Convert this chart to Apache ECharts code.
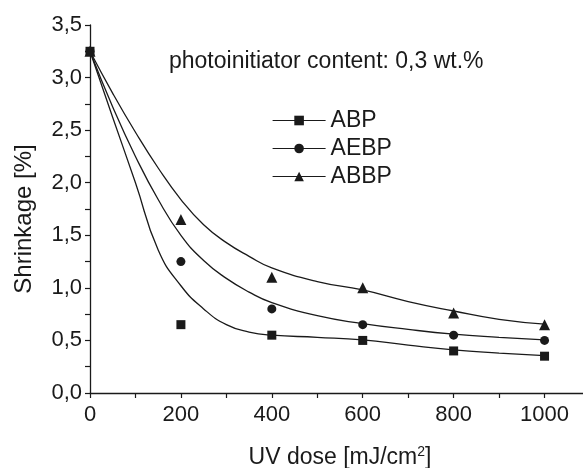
<!DOCTYPE html>
<html>
<head>
<meta charset="utf-8">
<script src="https://cdn.jsdelivr.net/npm/echarts@6/dist/echarts.min.js"></script>
<style>
  html, body { margin: 0; padding: 0; background: #fff; }
  #chart { width: 583px; height: 468px; }
</style>
</head>
<body>
<div id="chart"></div>
<script>
// ---- data ----
const doses = [0, 200, 400, 600, 800, 1000];
const abpPoints  = [3.25, 0.65, 0.55, 0.50, 0.40, 0.35];
const aebpPoints = [3.25, 1.25, 0.80, 0.65, 0.55, 0.50];
const abbpPoints = [3.25, 1.65, 1.10, 1.00, 0.76, 0.65];

// fitted curves at these doses
const fitDoses = [0, 50, 100, 150, 200, 250, 300, 350, 400, 500, 600, 700, 800, 900, 1000];
const abpFit  = [3.25, 2.62, 2.00, 1.36, 1.02, 0.80, 0.65, 0.58, 0.55, 0.53, 0.505, 0.455, 0.41, 0.38, 0.355];
const aebpFit = [3.25, 2.72, 2.25, 1.84, 1.50, 1.26, 1.09, 0.96, 0.86, 0.735, 0.66, 0.605, 0.56, 0.53, 0.505];
const abbpFit = [3.25, 2.85, 2.48, 2.14, 1.84, 1.60, 1.43, 1.30, 1.19, 1.06, 0.98, 0.87, 0.78, 0.70, 0.655];

const seriesNames = ['ABP', 'AEBP', 'ABBP'];
const annotation = 'photoinitiator content: 0,3 wt.%';
const xTitle = 'UV dose [mJ/cm{sup|2}]';
const yTitle = 'Shrinkage [%]';

const ink = '#1a1a1a';
const font = 'Liberation Sans, Arial, sans-serif';

function pairs(xs, ys) { return xs.map((x, i) => [x, ys[i]]); }

const chart = echarts.init(document.getElementById('chart'), null, { renderer: 'canvas' });

const fitSeries = (name, data, symbol) => ({
  name, type: 'line', data, smooth: 0.5, showSymbol: false, symbol,
  lineStyle: { color: ink, width: 1.3 }, itemStyle: { color: ink },
  silent: true, animation: false, z: 2
});
const pointSeries = (name, data, symbol, size) => ({
  name, type: 'scatter', data, symbol, symbolSize: size,
  itemStyle: { color: ink, opacity: 1 }, silent: true, animation: false, z: 3
});

chart.setOption({
  animation: false,
  backgroundColor: '#fff',
  grid: { left: 90, right: -7, top: 25, bottom: 75, containLabel: false, outerBoundsMode: 'none' },
  xAxis: {
    type: 'value', min: 0, max: 1100, interval: 200,
    axisLine: { show: true, lineStyle: { color: ink, width: 1.3 } },
    axisTick: { show: true, length: 5, lineStyle: { color: ink, width: 1.2 } },
    minorTick: { show: true, splitNumber: 2, length: 5, lineStyle: { color: ink, width: 1.2 } },
    splitLine: { show: false },
    axisLabel: { color: ink, fontSize: 22, fontFamily: font, margin: 11,
      formatter: v => (v % 200 === 0 && v <= 1000) ? String(v) : '' },
    name: xTitle, nameLocation: 'middle', nameGap: 52,
    nameTextStyle: { color: ink, fontSize: 23, fontFamily: font,
      rich: { sup: { fontSize: 14, fontFamily: font, color: ink, padding: [0, 0, 12, 0] } } }
  },
  yAxis: {
    type: 'value', min: 0, max: 3.5, interval: 0.5,
    axisLine: { show: true, lineStyle: { color: ink, width: 1.3 } },
    axisTick: { show: true, length: 5, lineStyle: { color: ink, width: 1.2 } },
    minorTick: { show: true, splitNumber: 2, length: 5, lineStyle: { color: ink, width: 1.2 } },
    splitLine: { show: false },
    axisLabel: { color: ink, fontSize: 22, fontFamily: font, margin: 8,
      formatter: v => v.toFixed(1).replace('.', ',') },
    name: yTitle, nameLocation: 'middle', nameGap: 54, nameRotate: 90,
    nameTextStyle: { color: ink, fontSize: 24, fontFamily: font, padding: [0, 20, 0, 0] }
  },
  legend: {
    data: seriesNames, orient: 'vertical', left: 267, top: 104,
    itemWidth: 53, itemHeight: 12, itemGap: 5,
    textStyle: { color: ink, fontSize: 23, fontFamily: font },
    selectedMode: false,
    lineStyle: { color: ink, width: 1.2 }
  },
  graphic: [{
    type: 'text', left: 169, top: 50,
    style: { text: annotation, fill: ink, fontSize: 23, fontFamily: font }
  }],
  series: [
    fitSeries('ABP', pairs(fitDoses, abpFit), 'rect'),
    fitSeries('AEBP', pairs(fitDoses, aebpFit), 'circle'),
    fitSeries('ABBP', pairs(fitDoses, abbpFit), 'triangle'),
    pointSeries('ABP points', pairs(doses, abpPoints), 'rect', 9),
    pointSeries('AEBP points', pairs(doses, aebpPoints), 'circle', 9),
    pointSeries('ABBP points', pairs(doses, abbpPoints), 'triangle', 11)
  ]
});
</script>
</body>
</html>
